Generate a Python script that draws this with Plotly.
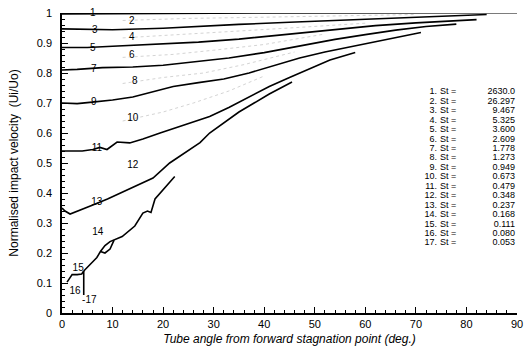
import plotly.graph_objects as go

# ---- data ----
c1_x = [0, 10, 20, 30, 40, 50, 60, 70, 80, 90]
c1_y = [0.997, 0.997, 0.998, 0.999, 1.0, 1.0, 1.0, 1.001, 1.001, 1.001]
c3_x = [0, 5, 10, 20, 27, 35, 45, 55, 65, 75, 84]
c3_y = [0.947, 0.946, 0.944, 0.949, 0.956, 0.962, 0.969, 0.976, 0.983, 0.99, 0.995]
c5_x = [0, 5, 10, 20, 27, 35, 45, 55, 62, 70, 76, 82]
c5_y = [0.885, 0.885, 0.889, 0.897, 0.903, 0.913, 0.93, 0.948, 0.958, 0.967, 0.973, 0.978]
c7_x = [0, 3, 8, 14, 20, 27, 33, 40, 47, 54, 60, 66, 72, 78]
c7_y = [0.81, 0.812, 0.818, 0.82, 0.826, 0.838, 0.85, 0.868, 0.89, 0.912, 0.928, 0.943, 0.955, 0.963]
c9_x = [0, 3, 6, 10, 14, 18, 22, 27, 32, 37, 42, 47, 52, 57, 64, 71]
c9_y = [0.70, 0.698, 0.703, 0.71, 0.72, 0.738, 0.755, 0.768, 0.78, 0.8, 0.825, 0.85, 0.87, 0.887, 0.912, 0.935]
c11_x = [0, 4, 6.1, 7.5, 8.9, 10.9, 13.4, 16, 19.4, 24, 29.2, 33, 37, 41, 45, 49, 53, 58]
c11_y = [0.54, 0.54, 0.545, 0.552, 0.545, 0.57, 0.567, 0.58, 0.6, 0.625, 0.655, 0.685, 0.72, 0.755, 0.785, 0.815, 0.843, 0.868]
c13_x = [0, 0.6, 1.6, 4, 6.1, 9, 12.8, 16, 18, 21.3, 24, 27.3, 29.2, 32, 35, 38, 41, 45.5]
c13_y = [0.35, 0.34, 0.33, 0.345, 0.36, 0.38, 0.41, 0.435, 0.45, 0.5, 0.53, 0.568, 0.6, 0.635, 0.67, 0.7, 0.73, 0.77]
c14_x = [4.3, 5.5, 6.9, 7.6, 8.5, 9.5, 10.3, 11.9, 14.4, 16.0, 16.9, 17.6, 18.4, 20, 22.3]
c14_y = [0.14, 0.16, 0.185, 0.205, 0.225, 0.238, 0.243, 0.255, 0.29, 0.333, 0.34, 0.335, 0.38, 0.41, 0.455]
c14b_x = [7.6, 8.5, 9.5, 10.3]
c14b_y = [0.205, 0.200, 0.213, 0.243]
c15_x = [1.0, 1.6, 2.0, 3.0, 3.9, 4.3]
c15_y = [0.103, 0.12, 0.128, 0.128, 0.13, 0.14]
c16_x = [4.3, 4.3]
c16_y = [0.14, 0.06]

# faint dotted intermediate curves (even numbers)
c2_x = [12, 25, 40, 55, 70]
c2_y = [0.975, 0.982, 0.986, 0.99, 0.995]
c4_x = [12, 23, 33, 45, 60]
c4_y = [0.917, 0.928, 0.936, 0.95, 0.966]
c6_x = [12, 22, 30, 40, 52]
c6_y = [0.852, 0.862, 0.876, 0.895, 0.93]
c8_x = [12, 20, 28, 36, 46]
c8_y = [0.765, 0.785, 0.8, 0.828, 0.87]
c10_x = [12, 20, 26, 33, 40]
c10_y = [0.64, 0.67, 0.7, 0.74, 0.79]

curve_labels = ["1", "3", "5", "7", "9", "11", "13", "2", "4", "6", "8", "10", "12", "14", "15", "16", "-17"]
label_x = [6.1, 6.5, 6.1, 6.3, 6.3, 6.9, 6.9, 13.8, 13.8, 13.8, 14.4, 14.0, 14.0, 7.1, 3.2, 2.6, 5.4]
label_y = [1.0, 0.943, 0.883, 0.813, 0.703, 0.55, 0.367, 0.973, 0.92, 0.857, 0.773, 0.65, 0.493, 0.267, 0.147, 0.073, 0.043]

legend_num = [f"{i}." for i in range(1, 18)]
legend_st = ["2630.0", "26.297", "9.467", "5.325", "3.600", "2.609", "1.778", "1.273",
             "0.949", "0.673", "0.479", "0.348", "0.237", "0.168", "0.111", "0.080", "0.053"]

x_ticks = list(range(0, 91, 10))
y_ticks = [round(0.1 * i, 1) for i in range(11)]
y_ticktext = ["0", "0.1", "0.2", "0.3", "0.4", "0.5", "0.6", "0.7", "0.8", "0.9", "1"]

FONT = "Liberation Sans, Arial, sans-serif"

fig = go.Figure()
for xs, ys in [(c2_x, c2_y), (c4_x, c4_y), (c6_x, c6_y), (c8_x, c8_y), (c10_x, c10_y)]:
    fig.add_trace(go.Scatter(x=xs, y=ys, mode="lines",
                             line=dict(color="#d4d4d4", width=1, dash="dot"),
                             showlegend=False, hoverinfo="skip"))
for xs, ys in [(c1_x, c1_y), (c3_x, c3_y), (c5_x, c5_y), (c7_x, c7_y), (c9_x, c9_y),
               (c11_x, c11_y), (c13_x, c13_y), (c14_x, c14_y), (c14b_x, c14b_y),
               (c15_x, c15_y), (c16_x, c16_y)]:
    fig.add_trace(go.Scatter(x=xs, y=ys, mode="lines",
                             line=dict(color="black", width=1.6),
                             showlegend=False, hoverinfo="skip", cliponaxis=False))

# curve number labels
fig.add_trace(go.Scatter(x=label_x, y=label_y, mode="text", text=curve_labels,
                         textfont=dict(family=FONT, size=10, color="black"),
                         showlegend=False, hoverinfo="skip", cliponaxis=False))

# legend block (right side), plotted as text marks in data space
px2x = lambda px: (px - 62) / 5.056
py2y = lambda py: (313 - py) / 300.0
rows_y = [py2y(92 + 9.45 * i) for i in range(17)]
LF = dict(family=FONT, size=9, color="black")
fig.add_trace(go.Scatter(x=[px2x(437)] * 17, y=rows_y, mode="text", text=legend_num,
                         textposition="middle left", textfont=LF,
                         showlegend=False, hoverinfo="skip", cliponaxis=False))
fig.add_trace(go.Scatter(x=[px2x(440)] * 17, y=rows_y, mode="text", text=["St ="] * 17,
                         textposition="middle right", textfont=LF,
                         showlegend=False, hoverinfo="skip", cliponaxis=False))
fig.add_trace(go.Scatter(x=[px2x(515)] * 17, y=rows_y, mode="text", text=legend_st,
                         textposition="middle left", textfont=LF,
                         showlegend=False, hoverinfo="skip", cliponaxis=False))

fig.update_layout(
    width=526, height=353,
    margin=dict(l=62, r=9, t=13, b=40),
    paper_bgcolor="white", plot_bgcolor="white",
    font=dict(family=FONT, size=11, color="black"),
    showlegend=False,
)
fig.update_xaxes(range=[0, 90], tickvals=x_ticks, ticks="inside", ticklen=6, tickwidth=1.3,
                 tickcolor="black", showline=True, linecolor="black", linewidth=1.6,
                 showgrid=False, zeroline=False, automargin=False,
                 minor=dict(dtick=2, ticks="inside", ticklen=3, tickcolor="black", tickwidth=1),
                 tickfont=dict(family=FONT, size=11, color="black"),
                 title=dict(text="Tube angle from forward stagnation point (deg.)", standoff=6,
                            font=dict(family=FONT, size=12, color="black", style="italic")))
fig.update_yaxes(range=[0, 1.0], tickvals=y_ticks, ticktext=y_ticktext, ticks="inside",
                 ticklen=6, tickwidth=1.3, tickcolor="black", showline=True, linecolor="black",
                 linewidth=1.6, showgrid=False, zeroline=False, automargin=False,
                 ticklabelstandoff=6,
                 minor=dict(dtick=0.02, ticks="inside", ticklen=3, tickcolor="black", tickwidth=1),
                 tickfont=dict(family=FONT, size=11, color="black"),
                 title=dict(text="Normalised impact velocity  (Ui/Uo)", standoff=16,
                            font=dict(family=FONT, size=12, color="black")))

fig.write_html("out.html", config={"displayModeBar": False},
               post_script="document.body.style.margin='0';document.body.style.overflow='hidden';")
